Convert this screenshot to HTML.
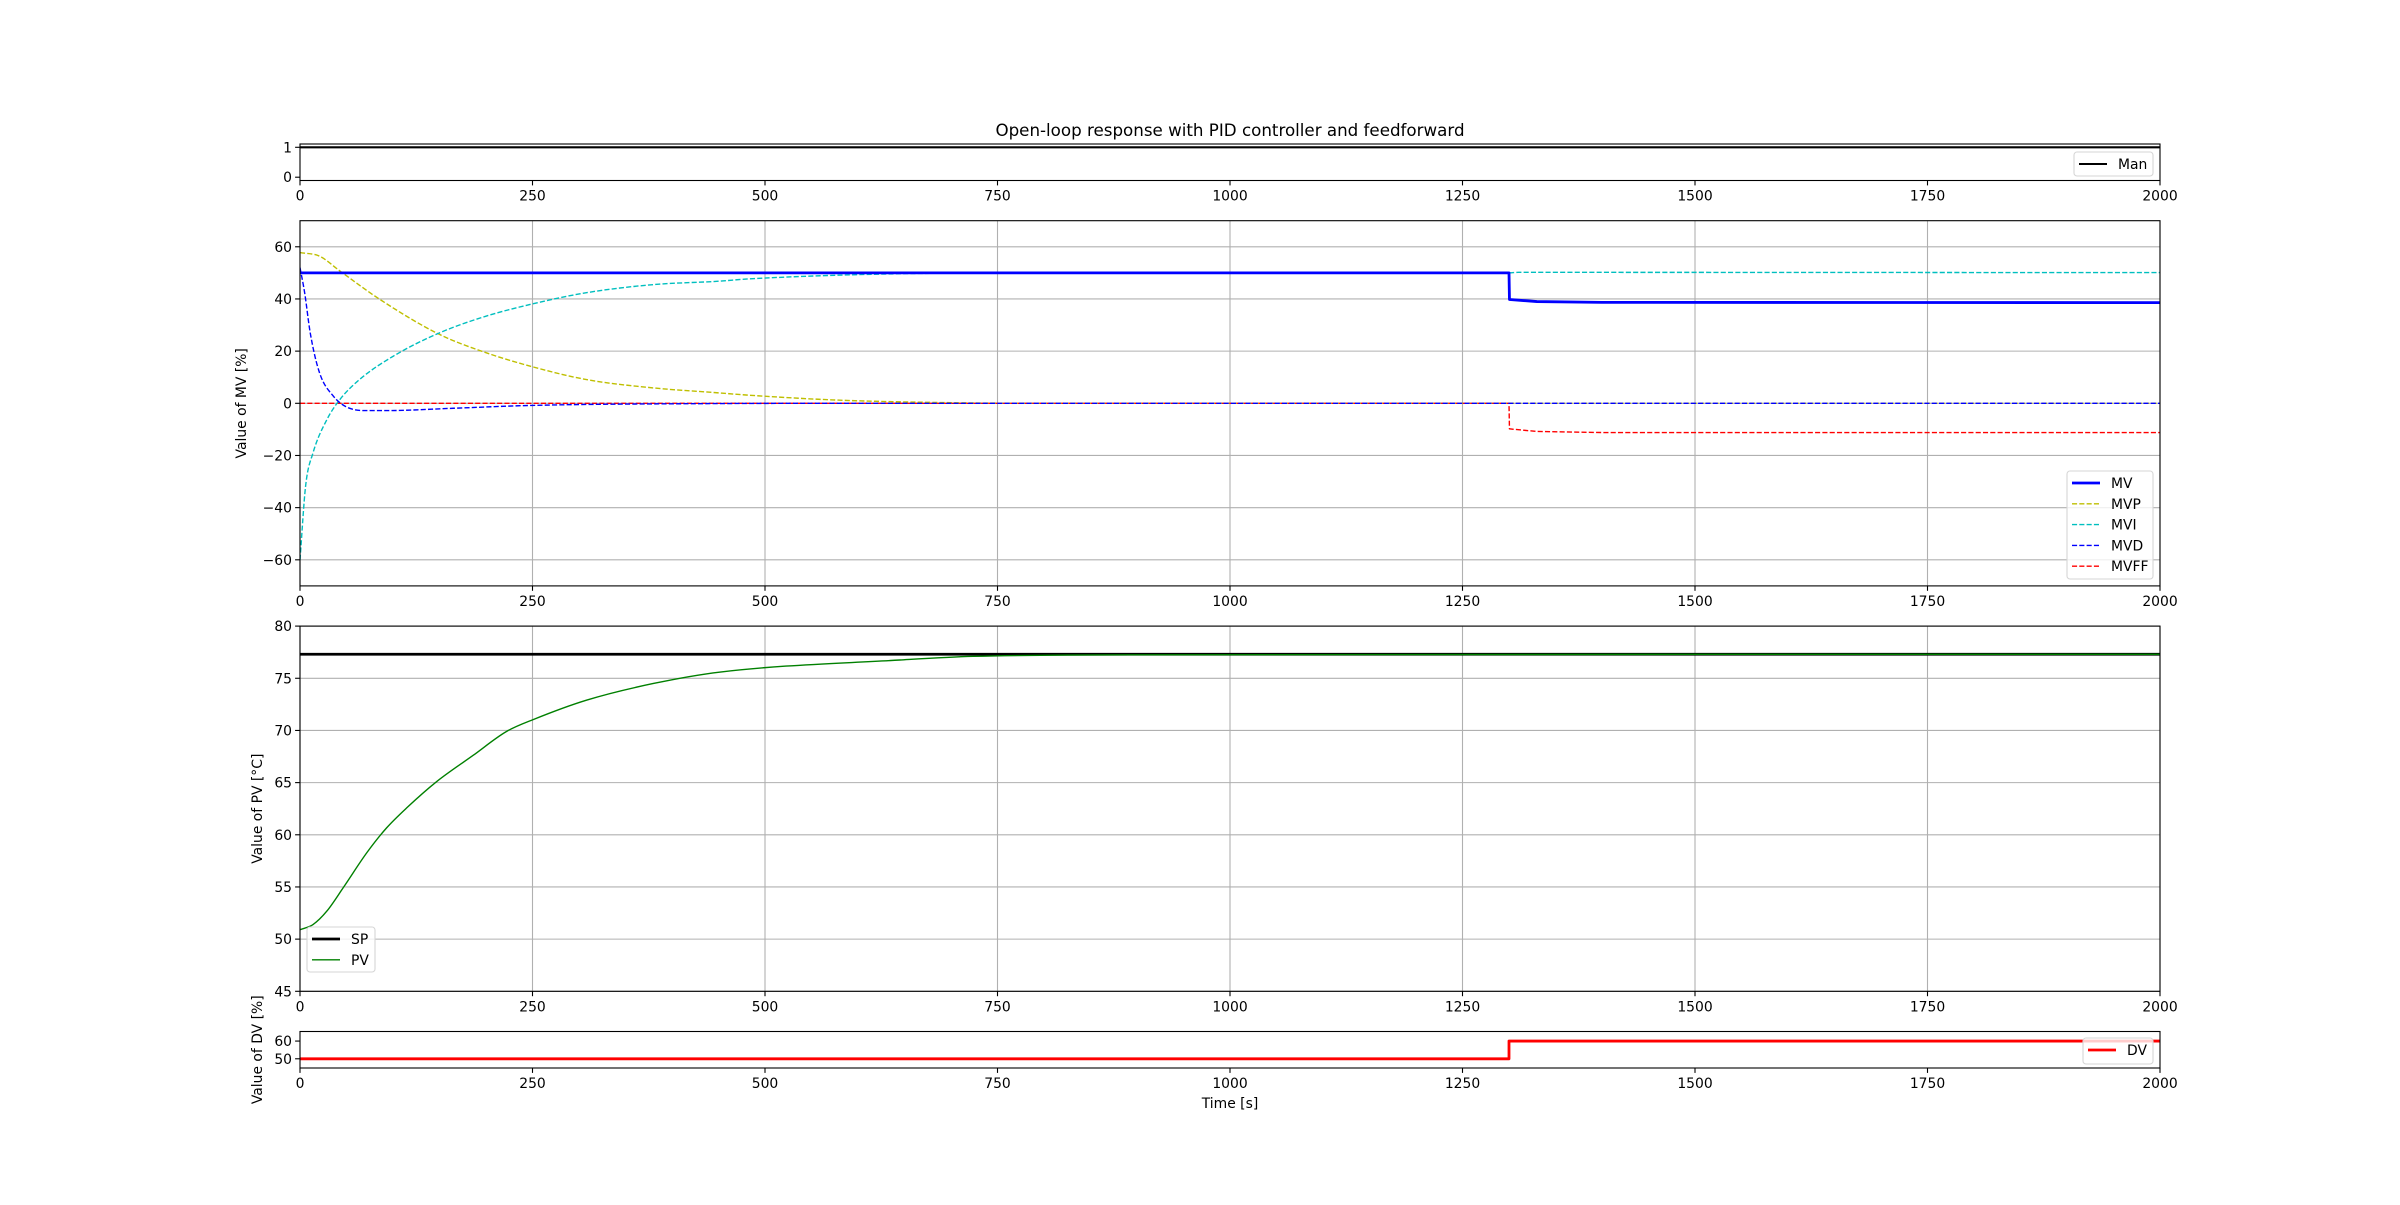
<!DOCTYPE html>
<html><head><meta charset="utf-8"><style>
html,body{margin:0;padding:0;background:#fff;}
svg text{font-family:"DejaVu Sans","Liberation Sans",sans-serif;fill:#000;}
</style></head><body>
<svg id="fig" width="2400" height="1200" viewBox="0 0 2400 1200" xmlns="http://www.w3.org/2000/svg">
<rect width="2400" height="1200" fill="#fff"/>
<text x="1230" y="136" font-size="16.7" text-anchor="middle">Open-loop response with PID controller and feedforward</text>
<g id="root"></g>
</svg>
<script>
// ---- data ----
const xTicks = [0,250,500,750,1000,1250,1500,1750,2000];
const manT = [0,2000];
const manV = [1,1];
const mvT = [0,1300,1300.5,1330,1400,2000];
const mvV = [50,50,39.8,39.0,38.7,38.6];
const mvpT = [0,21,43,86,150,200,250,308,380,450,483,573,670,800,2000];
const mvpV = [57.8,56.4,50.7,39.8,26.4,19.4,14,9.1,5.9,4.0,3.1,1.3,0.4,0,0];
const mviT = [0,6,14,29,43,64,100,150,200,250,308,380,450,483,670,800,1300,1310,2000];
const mviV = [-60,-31.8,-19,-6.2,1.5,9.1,18,27,33.4,38.1,42.4,45.5,46.8,47.7,49.8,50,50,50.2,50.1];
const mvdT = [0,5,11,21,36,50,72,93,165,250,450,600,2000];
const mvdV = [52,42.4,27,11.7,2.7,-1.4,-2.8,-2.8,-1.9,-0.8,-0.1,0,0];
const mvffT = [0,1300,1300.5,1330,1400,2000];
const mvffV = [0,0,-9.8,-10.8,-11.2,-11.2];
const spT = [0,2000];
const spV = [77.3,77.3];
const pvT = [0,14,29,47,72,93,115,147,186,222,251,308,380,452,645,724,910,2000];
const pvV = [50.9,51.4,52.7,55.0,58.3,60.65,62.6,65.1,67.6,69.9,71.05,72.9,74.5,75.6,76.75,77.1,77.25,77.3];
const dvT = [0,1300,1300,2000];
const dvV = [50,50,60,60];
const mvTicks = [-60,-40,-20,0,20,40,60];
const pvTicks = [45,50,55,60,65,70,75,80];
const dvTicks = [50,60];
const manTicks = [0,1];

const NS='http://www.w3.org/2000/svg';
const root=document.getElementById('root');
function el(tag,attrs,parent){const e=document.createElementNS(NS,tag);for(const k in attrs)e.setAttribute(k,attrs[k]);(parent||root).appendChild(e);return e;}
const X0=300,X1=2160;
function sx(t){return X0+(t/2000)*(X1-X0);}

function panel(name,top,bot,ymin,ymax,yticks,grid,ylabel,ylabelX){
  const g=el('g',{});
  
  
  const sy=v=>bot-(v-ymin)/(ymax-ymin)*(bot-top);
  if(grid){
    xTicks.forEach(t=>{const l=el('line',{x1:sx(t),x2:sx(t),y1:top,y2:bot,stroke:'#b0b0b0','stroke-width':1.1},g);
      });
    yticks.forEach(v=>{const l=el('line',{x1:X0,x2:X1,y1:sy(v),y2:sy(v),stroke:'#b0b0b0','stroke-width':1.1},g);
      });
  }
  const clip='clip-'+name;
  const cp=el('clipPath',{id:clip},g);el('rect',{x:X0,y:top,width:X1-X0,height:bot-top},cp);
  const series=el('g',{'clip-path':'url(#'+clip+')'},g);
  
  
  const fr=el('rect',{x:X0,y:top,width:X1-X0,height:bot-top,fill:'none',stroke:'#000','stroke-width':1.1},g);
  
  xTicks.forEach(t=>{
    el('line',{x1:sx(t),x2:sx(t),y1:bot,y2:bot+4.9,stroke:'#000','stroke-width':1.1},g);
    const tx=el('text',{x:sx(t),y:bot+20,'font-size':13.9,'text-anchor':'middle'},g);tx.textContent=t;
    
  });
  yticks.forEach(v=>{
    el('line',{x1:X0-4.9,x2:X0,y1:sy(v),y2:sy(v),stroke:'#000','stroke-width':1.1},g);
    const tx=el('text',{x:X0-8,y:sy(v)+5,'font-size':13.9,'text-anchor':'end'},g);tx.textContent=(v<0?'\u2212'+(-v):v);
    
  });
  if(ylabel){const cy=(top+bot)/2;const t=el('text',{x:ylabelX,y:cy,'font-size':13.9,'text-anchor':'middle',transform:'rotate(-90 '+ylabelX+' '+cy+')'},g);t.textContent=ylabel;
    }
  return {g,series,sy};
}
// monotone cubic path (Fritsch-Carlson) in pixel space
function smoothPath(xs,ys){
  const n=xs.length;if(n<3)return xs.map((x,i)=>(i?'L':'M')+x.toFixed(2)+' '+ys[i].toFixed(2)).join(' ');
  const d=[],m=new Array(n);
  for(let i=0;i<n-1;i++)d.push((ys[i+1]-ys[i])/(xs[i+1]-xs[i]));
  m[0]=d[0];m[n-1]=d[n-2];
  for(let i=1;i<n-1;i++){m[i]=(d[i-1]*d[i]<=0)?0:(d[i-1]+d[i])/2;}
  for(let i=0;i<n-1;i++){if(d[i]===0){m[i]=0;m[i+1]=0;continue;}
    const a=m[i]/d[i],b=m[i+1]/d[i],s=a*a+b*b;if(s>9){const t=3/Math.sqrt(s);m[i]=t*a*d[i];m[i+1]=t*b*d[i];}}
  let p='M'+xs[0].toFixed(2)+' '+ys[0].toFixed(2);
  for(let i=0;i<n-1;i++){const h=(xs[i+1]-xs[i])/3;
    p+=' C'+(xs[i]+h).toFixed(2)+' '+(ys[i]+m[i]*h).toFixed(2)+' '+(xs[i+1]-h).toFixed(2)+' '+(ys[i+1]-m[i+1]*h).toFixed(2)+' '+xs[i+1].toFixed(2)+' '+ys[i+1].toFixed(2);}
  return p;
}
function line(p,T,V,color,w,dash,name,smooth){
  const xs=T.map(sx),ys=V.map(p.sy);
  const d=smooth?smoothPath(xs,ys):xs.map((x,i)=>(i?'L':'M')+x.toFixed(2)+' '+ys[i].toFixed(2)).join(' ');
  const a={d:d,fill:'none',stroke:color,'stroke-width':w,'stroke-linejoin':'round'};
  if(dash)a['stroke-dasharray']=dash;
  const pth=el('path',a,p.series);
  
  
}
function legend(name,x,y,w,h,items){
  const g=el('g',{});
  
  
  el('rect',{x:x,y:y,width:w,height:h,rx:3,fill:'#fff','fill-opacity':0.8,stroke:'#d6d6d6','stroke-width':1.1},g);
  items.forEach((it,i)=>{
    const yy=y+12+i*20.8;
    const a={x1:x+5,x2:x+33,y1:yy,y2:yy,stroke:it.c,'stroke-width':it.w};
    if(it.d)a['stroke-dasharray']=it.d;
    el('line',a,g);
    const t=el('text',{x:x+44,y:yy+5,'font-size':13.9},g);t.textContent=it.l;
    
  });
}
const D='5.1 2.2';
// Man
const p1=panel('man-panel',144,180.5,-0.11,1.11,manTicks,false,null,0);
line(p1,manT,manV,'#000',2.1,null,'man-line');
legend('man-legend',2074,152,79,24,[{c:'#000',w:2.1,l:'Man'}]);
// MV
const p2=panel('mv-panel',220.7,585.9,-70,70,mvTicks,true,'Value of MV [%]',246);
line(p2,mvffT,mvffV,'#ff0000',1.4,D,'mvff-line',false);
line(p2,mvpT,mvpV,'#bfbf00',1.4,D,'mvp-line',true);
line(p2,mviT,mviV,'#00bfbf',1.4,D,'mvi-line',true);
line(p2,mvT,mvV,'#0000ff',2.8,null,'mv-line',false);
line(p2,mvdT,mvdV,'#0000ff',1.4,D,'mvd-line',true);
legend('mv-legend',2067,471,86,108,[
 {c:'#0000ff',w:2.8,l:'MV'},{c:'#bfbf00',w:1.4,d:D,l:'MVP'},{c:'#00bfbf',w:1.4,d:D,l:'MVI'},
 {c:'#0000ff',w:1.4,d:D,l:'MVD'},{c:'#ff0000',w:1.4,d:D,l:'MVFF'}]);
// PV
const p3=panel('pv-panel',626.1,991.3,45,80,pvTicks,true,'Value of PV [\u00b0C]',262);
line(p3,spT,spV,'#000',2.8,null,'sp-line');
line(p3,pvT,pvV,'#008000',1.4,null,'pv-line',true);
legend('pv-legend',307,927,68,45,[{c:'#000',w:2.8,l:'SP'},{c:'#008000',w:1.4,l:'PV'}]);
// DV
const p4=panel('dv-panel',1031.5,1068,44.8,65.4,dvTicks,false,'Value of DV [%]',262);
line(p4,dvT,dvV,'#ff0000',2.8,null,'dv-line');
legend('dv-legend',2083,1038,70,26,[{c:'#ff0000',w:2.8,l:'DV'}]);
const xl=el('text',{x:1230,y:1108,'font-size':13.9,'text-anchor':'middle'});xl.textContent='Time [s]';


</script>
</body></html>
